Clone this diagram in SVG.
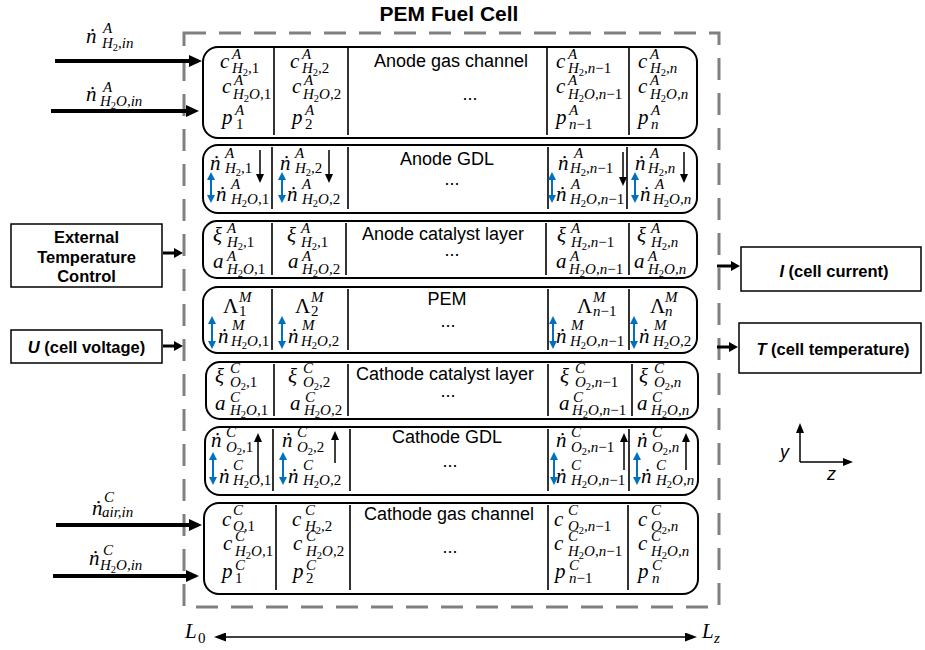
<svg xmlns="http://www.w3.org/2000/svg" width="925" height="650" viewBox="0 0 925 650">
<defs>
<style>
.m{font:italic 21px "Liberation Serif","DejaVu Serif",serif;fill:#000}
.g{font-style:normal}
.s{font:italic 15px "Liberation Serif","DejaVu Serif",serif;fill:#000}
.u{font-style:normal}
.ss{font-size:10.5px;font-style:normal}
.t{font:18px "Liberation Sans",Arial,sans-serif;text-anchor:middle;fill:#000}
.b{font:bold 16.5px "Liberation Sans",Arial,sans-serif;text-anchor:middle;fill:#000}
.row{fill:#fff;stroke:#000;stroke-width:2}
.div{stroke:#000;stroke-width:1.6;fill:none}
.box{fill:#fff;stroke:#000;stroke-width:1.5}
.thick{stroke:#000;stroke-width:4;marker-end:url(#big)}
.med{stroke:#000;stroke-width:3;marker-end:url(#mid)}
.thin{stroke:#000;stroke-width:1.5;marker-end:url(#thn)}
.blue{stroke:#0070c0;stroke-width:2;marker-start:url(#bl);marker-end:url(#bl)}
.ax{stroke:#000;stroke-width:1.5;marker-end:url(#axm)}
.sans{font:italic 18px "Liberation Sans",Arial,sans-serif;fill:#000}
</style>
<marker id="big" markerUnits="userSpaceOnUse" markerWidth="13" markerHeight="12" refX="1" refY="6" orient="auto"><path d="M0,0L13,6L0,12z" fill="#000"/></marker>
<marker id="mid" markerUnits="userSpaceOnUse" markerWidth="9" markerHeight="10" refX="1" refY="5" orient="auto"><path d="M0,0L9,5L0,10z" fill="#000"/></marker>
<marker id="thn" markerUnits="userSpaceOnUse" markerWidth="9" markerHeight="8" refX="1" refY="4" orient="auto"><path d="M0,0L9,4L0,8z" fill="#000"/></marker>
<marker id="bl" markerUnits="userSpaceOnUse" markerWidth="8" markerHeight="8" refX="1" refY="4" orient="auto-start-reverse"><path d="M0,0L8,4L0,8z" fill="#0070c0"/></marker>
<marker id="la" markerUnits="userSpaceOnUse" markerWidth="12" markerHeight="9" refX="1" refY="4.5" orient="auto-start-reverse"><path d="M0,0L12,4.5L0,9z" fill="#000"/></marker>
<marker id="axm" markerUnits="userSpaceOnUse" markerWidth="10" markerHeight="8" refX="1" refY="4" orient="auto"><path d="M0,0L10,4L0,8z" fill="#000"/></marker>
</defs>
<rect width="925" height="650" fill="#fff"/>

<g id="fuel-cell-boundary">
<rect x="184" y="33" width="535" height="574" fill="none" stroke="#808080" stroke-width="3" stroke-dasharray="22 13"/>
<text x="449" y="21" style="font:bold 21px 'Liberation Sans',Arial,sans-serif;text-anchor:middle">PEM Fuel Cell</text>
</g>

<g id="anode-gas-channel">
<rect class="row" x="203" y="47" width="494" height="91" rx="15"/>
<path class="div" d="M274,48V135M348,48V135M547,48V135M629,48V135"/>
<text class="t" x="451" y="67">Anode gas channel</text>
<text class="t" x="470" y="100">...</text>
<text class="m" x="220" y="68">c</text><text class="s" x="232" y="59">A</text><text class="s" x="232" y="73">H<tspan class="ss" dy="3">2</tspan><tspan dy="-3">,</tspan><tspan class="u">1</tspan></text>
<text class="m" x="222" y="93">c</text><text class="s" x="234" y="85">A</text><text class="s" x="233" y="99">H<tspan class="ss" dy="3">2</tspan><tspan dy="-3">O,</tspan><tspan class="u">1</tspan></text>
<text class="m" x="222" y="124">p</text><text class="s" x="235" y="115">A</text><text class="s" x="236" y="129"><tspan class="u">1</tspan></text>
<text class="m" x="290" y="68">c</text><text class="s" x="302" y="59">A</text><text class="s" x="302" y="73">H<tspan class="ss" dy="3">2</tspan><tspan dy="-3">,</tspan><tspan class="u">2</tspan></text>
<text class="m" x="292" y="93">c</text><text class="s" x="304" y="85">A</text><text class="s" x="303" y="99">H<tspan class="ss" dy="3">2</tspan><tspan dy="-3">O,</tspan><tspan class="u">2</tspan></text>
<text class="m" x="292" y="124">p</text><text class="s" x="305" y="115">A</text><text class="s" x="305" y="129"><tspan class="u">2</tspan></text>
<text class="m" x="556" y="68">c</text><text class="s" x="568" y="59">A</text><text class="s" x="568" y="73">H<tspan class="ss" dy="3">2</tspan><tspan dy="-3">,n</tspan><tspan class="u">−1</tspan></text>
<text class="m" x="556" y="93">c</text><text class="s" x="568" y="85">A</text><text class="s" x="568" y="99">H<tspan class="ss" dy="3">2</tspan><tspan dy="-3">O,n</tspan><tspan class="u">−1</tspan></text>
<text class="m" x="556" y="124">p</text><text class="s" x="569" y="115">A</text><text class="s" x="569" y="129">n<tspan class="u">−1</tspan></text>
<text class="m" x="638" y="68">c</text><text class="s" x="650" y="59">A</text><text class="s" x="650" y="73">H<tspan class="ss" dy="3">2</tspan><tspan dy="-3">,n</tspan></text>
<text class="m" x="638" y="93">c</text><text class="s" x="650" y="85">A</text><text class="s" x="650" y="99">H<tspan class="ss" dy="3">2</tspan><tspan dy="-3">O,n</tspan></text>
<text class="m" x="638" y="124">p</text><text class="s" x="651" y="115">A</text><text class="s" x="651" y="129">n</text>
</g>

<g id="anode-gdl">
<rect class="row" x="203" y="145" width="494" height="68" rx="15"/>
<path class="div" d="M272,147V209M348,147V209M548,147V209M627,147V209"/>
<text class="t" x="447" y="165">Anode GDL</text>
<text class="t" x="452" y="185">...</text>
<text class="m" x="210" y="170">ṅ</text><text class="s" x="225" y="158">A</text><text class="s" x="225" y="173">H<tspan class="ss" dy="3">2</tspan><tspan dy="-3">,</tspan><tspan class="u">1</tspan></text>
<text class="m" x="216" y="201">ṅ</text><text class="s" x="231" y="189">A</text><text class="s" x="231" y="204">H<tspan class="ss" dy="3">2</tspan><tspan dy="-3">O,</tspan><tspan class="u">1</tspan></text>
<text class="m" x="280" y="170">ṅ</text><text class="s" x="295" y="158">A</text><text class="s" x="295" y="173">H<tspan class="ss" dy="3">2</tspan><tspan dy="-3">,</tspan><tspan class="u">2</tspan></text>
<text class="m" x="287" y="201">ṅ</text><text class="s" x="302" y="189">A</text><text class="s" x="302" y="204">H<tspan class="ss" dy="3">2</tspan><tspan dy="-3">O,</tspan><tspan class="u">2</tspan></text>
<text class="m" x="558" y="170">ṅ</text><text class="s" x="574" y="158">A</text><text class="s" x="570" y="173">H<tspan class="ss" dy="3">2</tspan><tspan dy="-3">,n</tspan><tspan class="u">−1</tspan></text>
<text class="m" x="556" y="201">ṅ</text><text class="s" x="571" y="189">A</text><text class="s" x="570" y="204">H<tspan class="ss" dy="3">2</tspan><tspan dy="-3">O,n</tspan><tspan class="u">−1</tspan></text>
<text class="m" x="635" y="170">ṅ</text><text class="s" x="650" y="158">A</text><text class="s" x="648" y="173">H<tspan class="ss" dy="3">2</tspan><tspan dy="-3">,n</tspan></text>
<text class="m" x="640" y="201">ṅ</text><text class="s" x="655" y="189">A</text><text class="s" x="653" y="204">H<tspan class="ss" dy="3">2</tspan><tspan dy="-3">O,n</tspan></text>
<line class="thin" x1="260" y1="150" x2="260" y2="175"/>
<line class="thin" x1="329" y1="150" x2="329" y2="175"/>
<line class="thin" x1="623" y1="152" x2="623" y2="178"/>
<line class="thin" x1="684" y1="152" x2="684" y2="175"/>
<line class="blue" x1="211" y1="179" x2="211" y2="196"/>
<line class="blue" x1="282" y1="179" x2="282" y2="196"/>
<line class="blue" x1="552" y1="179" x2="552" y2="196"/>
<line class="blue" x1="635" y1="179" x2="635" y2="196"/>
</g>

<g id="anode-catalyst-layer">
<rect class="row" x="203" y="221" width="494" height="57" rx="14"/>
<path class="div" d="M272,223V275M346,223V275M546,223V275M629,223V275"/>
<text class="t" x="443" y="240">Anode catalyst layer</text>
<text class="t" x="452" y="256">...</text>
<text class="m" x="213" y="242">ξ</text><text class="s" x="227" y="233">A</text><text class="s" x="227" y="247">H<tspan class="ss" dy="3">2</tspan><tspan dy="-3">,</tspan><tspan class="u">1</tspan></text>
<text class="m" x="213" y="268">a</text><text class="s" x="227" y="261">A</text><text class="s" x="227" y="274">H<tspan class="ss" dy="3">2</tspan><tspan dy="-3">O,</tspan><tspan class="u">1</tspan></text>
<text class="m" x="287" y="242">ξ</text><text class="s" x="301" y="233">A</text><text class="s" x="301" y="247">H<tspan class="ss" dy="3">2</tspan><tspan dy="-3">,</tspan><tspan class="u">1</tspan></text>
<text class="m" x="288" y="268">a</text><text class="s" x="302" y="261">A</text><text class="s" x="302" y="274">H<tspan class="ss" dy="3">2</tspan><tspan dy="-3">O,</tspan><tspan class="u">2</tspan></text>
<text class="m" x="557" y="242">ξ</text><text class="s" x="571" y="233">A</text><text class="s" x="571" y="247">H<tspan class="ss" dy="3">2</tspan><tspan dy="-3">,n</tspan><tspan class="u">−1</tspan></text>
<text class="m" x="556" y="268">a</text><text class="s" x="570" y="261">A</text><text class="s" x="569" y="274">H<tspan class="ss" dy="3">2</tspan><tspan dy="-3">O,n</tspan><tspan class="u">−1</tspan></text>
<text class="m" x="637" y="242">ξ</text><text class="s" x="651" y="233">A</text><text class="s" x="651" y="247">H<tspan class="ss" dy="3">2</tspan><tspan dy="-3">,n</tspan></text>
<text class="m" x="634" y="268">a</text><text class="s" x="648" y="261">A</text><text class="s" x="648" y="274">H<tspan class="ss" dy="3">2</tspan><tspan dy="-3">O,n</tspan></text>
</g>

<g id="pem">
<rect class="row" x="203" y="287" width="494" height="66" rx="15"/>
<path class="div" d="M272,289V350M348,289V350M548,289V350M629,289V350"/>
<text class="t" x="447" y="305">PEM</text>
<text class="t" x="448" y="327">...</text>
<text class="m g" x="223" y="313">Λ</text><text class="s" x="239" y="302">M</text><text class="s" x="239" y="316"><tspan class="u">1</tspan></text>
<text class="m" x="218" y="343">ṅ</text><text class="s" x="232" y="330">M</text><text class="s" x="231" y="346">H<tspan class="ss" dy="3">2</tspan><tspan dy="-3">O,</tspan><tspan class="u">1</tspan></text>
<text class="m g" x="295" y="313">Λ</text><text class="s" x="311" y="302">M</text><text class="s" x="311" y="316"><tspan class="u">2</tspan></text>
<text class="m" x="288" y="343">ṅ</text><text class="s" x="302" y="330">M</text><text class="s" x="301" y="346">H<tspan class="ss" dy="3">2</tspan><tspan dy="-3">O,</tspan><tspan class="u">2</tspan></text>
<text class="m g" x="577" y="313">Λ</text><text class="s" x="593" y="302">M</text><text class="s" x="593" y="316">n<tspan class="u">−1</tspan></text>
<text class="m" x="556" y="343">ṅ</text><text class="s" x="571" y="330">M</text><text class="s" x="570" y="346">H<tspan class="ss" dy="3">2</tspan><tspan dy="-3">O,n</tspan><tspan class="u">−1</tspan></text>
<text class="m g" x="650" y="313">Λ</text><text class="s" x="665" y="302">M</text><text class="s" x="665" y="316">n</text>
<text class="m" x="639" y="343">ṅ</text><text class="s" x="654" y="330">M</text><text class="s" x="653" y="346">H<tspan class="ss" dy="3">2</tspan><tspan dy="-3">O,</tspan><tspan class="u">2</tspan></text>
<line class="blue" x1="212" y1="323" x2="212" y2="342"/>
<line class="blue" x1="282" y1="323" x2="282" y2="342"/>
<line class="blue" x1="553" y1="323" x2="553" y2="342"/>
<line class="blue" x1="634" y1="323" x2="634" y2="342"/>
</g>

<g id="cathode-catalyst-layer">
<rect class="row" x="206" y="362" width="492" height="57" rx="14"/>
<path class="div" d="M274,364V416M348,364V416M548,364V416M632,364V416"/>
<text class="t" x="445" y="380">Cathode catalyst layer</text>
<text class="t" x="448" y="397">...</text>
<text class="m" x="215" y="383">ξ</text><text class="s" x="230" y="373">C</text><text class="s" x="230" y="387">O<tspan class="ss" dy="3">2</tspan><tspan dy="-3">,</tspan><tspan class="u">1</tspan></text>
<text class="m" x="215" y="410">a</text><text class="s" x="230" y="402">C</text><text class="s" x="230" y="415">H<tspan class="ss" dy="3">2</tspan><tspan dy="-3">O,</tspan><tspan class="u">1</tspan></text>
<text class="m" x="288" y="383">ξ</text><text class="s" x="303" y="373">C</text><text class="s" x="303" y="387">O<tspan class="ss" dy="3">2</tspan><tspan dy="-3">,</tspan><tspan class="u">2</tspan></text>
<text class="m" x="290" y="410">a</text><text class="s" x="305" y="402">C</text><text class="s" x="304" y="415">H<tspan class="ss" dy="3">2</tspan><tspan dy="-3">O,</tspan><tspan class="u">2</tspan></text>
<text class="m" x="560" y="383">ξ</text><text class="s" x="575" y="373">C</text><text class="s" x="575" y="387">O<tspan class="ss" dy="3">2</tspan><tspan dy="-3">,n</tspan><tspan class="u">−1</tspan></text>
<text class="m" x="559" y="410">a</text><text class="s" x="573" y="402">C</text><text class="s" x="572" y="415">H<tspan class="ss" dy="3">2</tspan><tspan dy="-3">O,n</tspan><tspan class="u">−1</tspan></text>
<text class="m" x="639" y="383">ξ</text><text class="s" x="654" y="373">C</text><text class="s" x="654" y="387">O<tspan class="ss" dy="3">2</tspan><tspan dy="-3">,n</tspan></text>
<text class="m" x="637" y="410">a</text><text class="s" x="652" y="402">C</text><text class="s" x="651" y="415">H<tspan class="ss" dy="3">2</tspan><tspan dy="-3">O,n</tspan></text>
</g>

<g id="cathode-gdl">
<rect class="row" x="205" y="427" width="493" height="68" rx="15"/>
<path class="div" d="M273,429V491M350,429V491M548,429V491M629,429V491"/>
<text class="t" x="447" y="443">Cathode GDL</text>
<text class="t" x="450" y="467">...</text>
<text class="m" x="211" y="447">ṅ</text><text class="s" x="226" y="437">C</text><text class="s" x="226" y="452">O<tspan class="ss" dy="3">2</tspan><tspan dy="-3">,</tspan><tspan class="u">1</tspan></text>
<text class="m" x="219" y="483">ṅ</text><text class="s" x="233" y="470">C</text><text class="s" x="233" y="485">H<tspan class="ss" dy="3">2</tspan><tspan dy="-3">O,</tspan><tspan class="u">1</tspan></text>
<text class="m" x="282" y="447">ṅ</text><text class="s" x="297" y="437">C</text><text class="s" x="297" y="452">O<tspan class="ss" dy="3">2</tspan><tspan dy="-3">,</tspan><tspan class="u">2</tspan></text>
<text class="m" x="288" y="483">ṅ</text><text class="s" x="303" y="470">C</text><text class="s" x="303" y="485">H<tspan class="ss" dy="3">2</tspan><tspan dy="-3">O,</tspan><tspan class="u">2</tspan></text>
<text class="m" x="556" y="447">ṅ</text><text class="s" x="571" y="437">C</text><text class="s" x="571" y="452">O<tspan class="ss" dy="3">2</tspan><tspan dy="-3">,n</tspan><tspan class="u">−1</tspan></text>
<text class="m" x="556" y="483">ṅ</text><text class="s" x="571" y="470">C</text><text class="s" x="571" y="485">H<tspan class="ss" dy="3">2</tspan><tspan dy="-3">O,n</tspan><tspan class="u">−1</tspan></text>
<text class="m" x="637" y="447">ṅ</text><text class="s" x="652" y="437">C</text><text class="s" x="652" y="452">O<tspan class="ss" dy="3">2</tspan><tspan dy="-3">,n</tspan></text>
<text class="m" x="641" y="483">ṅ</text><text class="s" x="656" y="470">C</text><text class="s" x="656" y="485">H<tspan class="ss" dy="3">2</tspan><tspan dy="-3">O,n</tspan></text>
<line class="thin" x1="258" y1="478" x2="258" y2="441"/>
<line class="thin" x1="335" y1="463" x2="335" y2="439"/>
<line class="thin" x1="624" y1="470" x2="624" y2="441"/>
<line class="thin" x1="686" y1="470" x2="686" y2="441"/>
<line class="blue" x1="213" y1="459" x2="213" y2="478"/>
<line class="blue" x1="283" y1="459" x2="283" y2="478"/>
<line class="blue" x1="554" y1="459" x2="554" y2="478"/>
<line class="blue" x1="637" y1="459" x2="637" y2="478"/>
</g>

<g id="cathode-gas-channel">
<rect class="row" x="204" y="503" width="494" height="91" rx="15"/>
<path class="div" d="M276,505V590M350,505V590M548,505V590M628,505V590"/>
<text class="t" x="449" y="520">Cathode gas channel</text>
<text class="t" x="450" y="553">...</text>
<text class="m" x="222" y="526">c</text><text class="s" x="233" y="515">C</text><text class="s" x="233" y="531">O,<tspan class="u">1</tspan></text>
<text class="m" x="223" y="550">c</text><text class="s" x="235" y="541">C</text><text class="s" x="235" y="556">H<tspan class="ss" dy="3">2</tspan><tspan dy="-3">O,</tspan><tspan class="u">1</tspan></text>
<text class="m" x="222" y="578">p</text><text class="s" x="235" y="570">C</text><text class="s" x="235" y="583"><tspan class="u">1</tspan></text>
<text class="m" x="292" y="526">c</text><text class="s" x="305" y="515">C</text><text class="s" x="305" y="531">H<tspan class="ss" dy="3">2</tspan><tspan dy="-3">,</tspan><tspan class="u">2</tspan></text>
<text class="m" x="293" y="550">c</text><text class="s" x="306" y="541">C</text><text class="s" x="306" y="556">H<tspan class="ss" dy="3">2</tspan><tspan dy="-3">O,</tspan><tspan class="u">2</tspan></text>
<text class="m" x="293" y="578">p</text><text class="s" x="306" y="570">C</text><text class="s" x="306" y="583"><tspan class="u">2</tspan></text>
<text class="m" x="554" y="526">c</text><text class="s" x="568" y="515">C</text><text class="s" x="568" y="531">O<tspan class="ss" dy="3">2</tspan><tspan dy="-3">,n</tspan><tspan class="u">−1</tspan></text>
<text class="m" x="554" y="550">c</text><text class="s" x="568" y="541">C</text><text class="s" x="568" y="556">H<tspan class="ss" dy="3">2</tspan><tspan dy="-3">O,n</tspan><tspan class="u">−1</tspan></text>
<text class="m" x="555" y="578">p</text><text class="s" x="569" y="570">C</text><text class="s" x="569" y="583">n<tspan class="u">−1</tspan></text>
<text class="m" x="638" y="526">c</text><text class="s" x="651" y="515">C</text><text class="s" x="651" y="531">O<tspan class="ss" dy="3">2</tspan><tspan dy="-3">,n</tspan></text>
<text class="m" x="638" y="550">c</text><text class="s" x="651" y="541">C</text><text class="s" x="651" y="556">H<tspan class="ss" dy="3">2</tspan><tspan dy="-3">O,n</tspan></text>
<text class="m" x="638" y="578">p</text><text class="s" x="652" y="570">C</text><text class="s" x="652" y="583">n</text>
</g>

<g id="external-temperature-control">
<rect class="box" x="11" y="224" width="151" height="63"/>
<text class="b" x="86.5" y="243">External</text>
<text class="b" x="86.5" y="263">Temperature</text>
<text class="b" x="86.5" y="282">Control</text>
</g>
<g id="cell-voltage">
<rect class="box" x="11" y="330" width="151" height="33"/>
<text class="b" x="86.5" y="353"><tspan font-style="italic">U</tspan> (cell voltage)</text>
</g>
<g id="cell-current">
<rect class="box" x="741" y="247" width="180" height="44"/>
<text class="b" x="834" y="277"><tspan font-style="italic">I</tspan> (cell current)</text>
</g>
<g id="cell-temperature">
<rect class="box" x="739" y="323" width="182" height="50"/>
<text class="b" x="833" y="355"><tspan font-style="italic">T</tspan> (cell temperature)</text>
</g>

<g id="input-labels">
<text class="m" x="86" y="43">ṅ</text><text class="s" x="103" y="33">A</text><text class="s" x="102" y="48">H<tspan class="ss" dy="3">2</tspan><tspan dy="-3">,in</tspan></text>
<text class="m" x="86" y="101">ṅ</text><text class="s" x="103" y="92">A</text><text class="s" x="100" y="106">H<tspan class="ss" dy="3">2</tspan><tspan dy="-3">O,in</tspan></text>
<text class="m" x="92" y="515">ṅ</text><text class="s" x="104" y="502">C</text><text class="s" x="102" y="517">air,in</text>
<text class="m" x="89" y="565">ṅ</text><text class="s" x="103" y="555">C</text><text class="s" x="100" y="570">H<tspan class="ss" dy="3">2</tspan><tspan dy="-3">O,in</tspan></text>
</g>

<g id="connectors">
<line class="thick" x1="55" y1="61" x2="190" y2="61"/>
<line class="thick" x1="51" y1="111" x2="187" y2="111"/>
<line class="thick" x1="56" y1="525" x2="190" y2="525"/>
<line class="thick" x1="53" y1="576" x2="187" y2="576"/>
<line class="med" x1="163" y1="253" x2="175" y2="253"/>
<line class="med" x1="163" y1="346" x2="175" y2="346"/>
<line class="med" x1="717" y1="266" x2="732" y2="266"/>
<line class="med" x1="717" y1="347" x2="730" y2="347"/>
</g>

<g id="length-axis">
<line x1="225" y1="637" x2="686" y2="637" stroke="#000" stroke-width="1.5" marker-start="url(#la)" marker-end="url(#la)"/>
<text class="m" x="185" y="638">L</text><text class="s" x="198" y="643"><tspan class="u">0</tspan></text>
<text class="m" x="702" y="638">L</text><text class="s" x="714" y="643">z</text>
</g>

<g id="coordinate-axes">
<line class="ax" x1="800" y1="462" x2="800" y2="432"/>
<line class="ax" x1="800" y1="462" x2="844" y2="462"/>
<text class="sans" x="780" y="458">y</text>
<text class="sans" x="827" y="480">z</text>
</g>
</svg>
